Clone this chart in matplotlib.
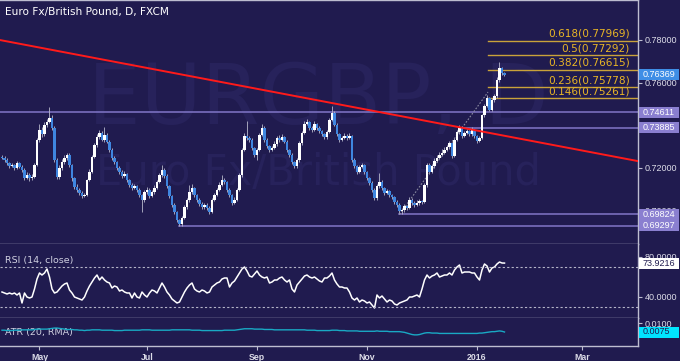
import matplotlib
matplotlib.use('Agg')
import matplotlib.pyplot as plt
from matplotlib.patches import Rectangle
from matplotlib.ticker import FormatStrFormatter, FuncFormatter
import numpy as np
import pandas as pd

# EUR/GBP daily candles (FXCM)
start_date = '2015-04-10'
first_open = 0.7252
closes = [0.7247, 0.7238, 0.7223, 0.7209, 0.7214, 0.7200, 0.7223, 0.7205, 0.7191, 0.7153,
          0.7167, 0.7153, 0.7158, 0.7214, 0.7331, 0.7378, 0.7359, 0.7402, 0.7416, 0.7434,
          0.7388, 0.7238, 0.7158, 0.7200, 0.7228, 0.7247, 0.7261, 0.7214, 0.7153, 0.7111,
          0.7097, 0.7083, 0.7069, 0.7073, 0.7144, 0.7181, 0.7252, 0.7308, 0.7345, 0.7364,
          0.7331, 0.7355, 0.7322, 0.7284, 0.7247, 0.7228, 0.7200, 0.7181, 0.7163, 0.7172,
          0.7144, 0.7120, 0.7106, 0.7116, 0.7097, 0.7073, 0.7050, 0.7088, 0.7097, 0.7069,
          0.7088, 0.7106, 0.7134, 0.7167, 0.7191, 0.7163, 0.7116, 0.7069, 0.7027, 0.6994,
          0.6956, 0.6938, 0.6966, 0.7017, 0.7050, 0.7088, 0.7106, 0.7073, 0.7050, 0.7031,
          0.7017, 0.7027, 0.7013, 0.6994, 0.7050, 0.7073, 0.7097, 0.7120, 0.7144, 0.7134,
          0.7097, 0.7073, 0.7036, 0.7050, 0.7097, 0.7167, 0.7284, 0.7350, 0.7341, 0.7331,
          0.7294, 0.7261, 0.7284, 0.7355, 0.7388, 0.7331, 0.7303, 0.7284, 0.7294, 0.7313,
          0.7341, 0.7331, 0.7345, 0.7322, 0.7284, 0.7261, 0.7228, 0.7209, 0.7238, 0.7317,
          0.7364, 0.7406, 0.7416, 0.7388, 0.7378, 0.7406, 0.7388, 0.7373, 0.7359, 0.7345,
          0.7369, 0.7425, 0.7458, 0.7402, 0.7359, 0.7331, 0.7341, 0.7350, 0.7341, 0.7350,
          0.7238, 0.7209, 0.7181, 0.7205, 0.7214, 0.7181, 0.7153, 0.7130, 0.7097, 0.7059,
          0.7116, 0.7134, 0.7106, 0.7083, 0.7092, 0.7073, 0.7064, 0.7041, 0.7027, 0.6998,
          0.7003, 0.7022, 0.7013, 0.7050, 0.7036, 0.7027, 0.7036, 0.7045, 0.7041, 0.7120,
          0.7214, 0.7181, 0.7209, 0.7233, 0.7247, 0.7261, 0.7270, 0.7284, 0.7298, 0.7317,
          0.7256, 0.7331, 0.7369, 0.7388, 0.7350, 0.7364, 0.7373, 0.7359, 0.7378, 0.7350,
          0.7327, 0.7341, 0.7448, 0.7491, 0.7528, 0.7472, 0.7519, 0.7538, 0.7613, 0.7669,
          0.7645, 0.7637]
highs = [0.7262, 0.7255, 0.7245, 0.7230, 0.7225, 0.7220, 0.7233, 0.7230, 0.7212, 0.7198,
         0.7180, 0.7175, 0.7170, 0.7222, 0.7340, 0.7405, 0.7392, 0.7415, 0.7430, 0.7486,
         0.7450, 0.7395, 0.7245, 0.7212, 0.7240, 0.7262, 0.7272, 0.7268, 0.7220, 0.7160,
         0.7125, 0.7105, 0.7090, 0.7085, 0.7150, 0.7195, 0.7260, 0.7318, 0.7358, 0.7380,
         0.7372, 0.7390, 0.7362, 0.7330, 0.7292, 0.7258, 0.7235, 0.7208, 0.7190, 0.7185,
         0.7178, 0.7150, 0.7128, 0.7125, 0.7122, 0.7105, 0.7080, 0.7098, 0.7110, 0.7105,
         0.7098, 0.7118, 0.7145, 0.7175, 0.7215, 0.7198, 0.7170, 0.7122, 0.7075, 0.7035,
         0.7000, 0.6962, 0.6975, 0.7025, 0.7060, 0.7118, 0.7125, 0.7112, 0.7080, 0.7058,
         0.7040, 0.7038, 0.7035, 0.7020, 0.7058, 0.7085, 0.7108, 0.7132, 0.7165, 0.7152,
         0.7140, 0.7105, 0.7080, 0.7062, 0.7105, 0.7175, 0.7292, 0.7362, 0.7420, 0.7352,
         0.7340, 0.7300, 0.7295, 0.7365, 0.7405, 0.7395, 0.7340, 0.7310, 0.7305, 0.7325,
         0.7350, 0.7355, 0.7360, 0.7352, 0.7330, 0.7290, 0.7268, 0.7235, 0.7248, 0.7325,
         0.7375, 0.7418, 0.7430, 0.7422, 0.7395, 0.7418, 0.7412, 0.7395, 0.7380, 0.7365,
         0.7378, 0.7435, 0.7490, 0.7465, 0.7410, 0.7365, 0.7352, 0.7362, 0.7358, 0.7365,
         0.7355, 0.7245, 0.7215, 0.7215, 0.7225, 0.7220, 0.7188, 0.7160, 0.7138, 0.7105,
         0.7125, 0.7177, 0.7142, 0.7112, 0.7102, 0.7098, 0.7080, 0.7070, 0.7048, 0.7035,
         0.7012, 0.7030, 0.7028, 0.7065, 0.7058, 0.7045, 0.7048, 0.7055, 0.7052, 0.7128,
         0.7222, 0.7225, 0.7220, 0.7245, 0.7260, 0.7275, 0.7290, 0.7300, 0.7310, 0.7328,
         0.7322, 0.7340, 0.7380, 0.7402, 0.7395, 0.7375, 0.7385, 0.7380, 0.7390, 0.7384,
         0.7356, 0.7352, 0.7455, 0.7500, 0.7540, 0.7535, 0.7530, 0.7548, 0.7625, 0.7697,
         0.7672, 0.7650]
lows = [0.7240, 0.7230, 0.7215, 0.7200, 0.7203, 0.7190, 0.7195, 0.7198, 0.7180, 0.7145,
        0.7148, 0.7140, 0.7145, 0.7152, 0.7208, 0.7320, 0.7345, 0.7350, 0.7390, 0.7410,
        0.7380, 0.7230, 0.7150, 0.7150, 0.7190, 0.7220, 0.7238, 0.7205, 0.7140, 0.7100,
        0.7088, 0.7075, 0.7058, 0.7062, 0.7068, 0.7138, 0.7175, 0.7245, 0.7300, 0.7335,
        0.7325, 0.7322, 0.7315, 0.7275, 0.7238, 0.7220, 0.7192, 0.7170, 0.7155, 0.7158,
        0.7135, 0.7110, 0.7098, 0.7100, 0.7088, 0.7062, 0.6995, 0.7042, 0.7078, 0.7060,
        0.7062, 0.7080, 0.7100, 0.7128, 0.7160, 0.7155, 0.7108, 0.7060, 0.7018, 0.6985,
        0.6945, 0.6930, 0.6930, 0.6960, 0.7010, 0.7042, 0.7080, 0.7065, 0.7042, 0.7022,
        0.7008, 0.7010, 0.7005, 0.6985, 0.6990, 0.7045, 0.7068, 0.7090, 0.7115, 0.7125,
        0.7088, 0.7065, 0.7028, 0.7030, 0.7045, 0.7090, 0.7160, 0.7278, 0.7332, 0.7322,
        0.7285, 0.7252, 0.7238, 0.7278, 0.7348, 0.7322, 0.7295, 0.7275, 0.7278, 0.7288,
        0.7305, 0.7322, 0.7325, 0.7315, 0.7275, 0.7252, 0.7220, 0.7200, 0.7202, 0.7230,
        0.7310, 0.7358, 0.7400, 0.7380, 0.7368, 0.7372, 0.7380, 0.7365, 0.7350, 0.7335,
        0.7338, 0.7362, 0.7418, 0.7395, 0.7350, 0.7322, 0.7325, 0.7335, 0.7332, 0.7335,
        0.7230, 0.7200, 0.7172, 0.7175, 0.7198, 0.7172, 0.7145, 0.7120, 0.7088, 0.7050,
        0.7052, 0.7108, 0.7098, 0.7075, 0.7076, 0.7065, 0.7055, 0.7032, 0.7018, 0.6982,
        0.6985, 0.6995, 0.7005, 0.7008, 0.7028, 0.7018, 0.7020, 0.7028, 0.7032, 0.7035,
        0.7112, 0.7172, 0.7175, 0.7202, 0.7228, 0.7240, 0.7255, 0.7265, 0.7278, 0.7290,
        0.7248, 0.7250, 0.7325, 0.7360, 0.7342, 0.7345, 0.7358, 0.7350, 0.7352, 0.7342,
        0.7318, 0.7320, 0.7335, 0.7440, 0.7485, 0.7465, 0.7468, 0.7510, 0.7530, 0.7605,
        0.7638, 0.7630]
rsi = [45, 44, 43, 44, 43, 44, 42, 44, 34, 44,
       40, 39, 40, 48, 58, 64, 62, 64, 68, 60,
       48, 44, 45, 48, 51, 53, 54, 47, 44, 40,
       39, 38, 37, 40, 46, 51, 55, 59, 62, 57,
       60, 57, 55, 54, 49, 51, 50, 46, 47, 45,
       44, 44, 39, 44, 40, 39, 45, 42, 40, 44,
       47, 46, 44, 49, 54, 50, 45, 42, 38, 36,
       34, 35, 40, 45, 49, 52, 54, 48, 46, 45,
       47, 46, 44, 45, 50, 52, 54, 55, 58, 59,
       59, 50, 54, 56, 60, 64, 68, 70, 66, 61,
       60, 63, 66, 62, 60, 59, 60, 54, 55, 57,
       57, 59, 60, 57, 55, 57, 48, 45, 52, 55,
       58, 61, 62, 60, 59, 60, 58, 56, 55, 59,
       59, 61, 64, 57, 53, 50, 50, 49, 49, 45,
       39, 37, 39, 35, 37, 36, 34, 35, 32, 29,
       42, 39, 41, 38, 35, 37, 36, 33, 32, 34,
       35, 36, 37, 40, 40, 41, 42, 40, 48, 57,
       62, 59, 61, 62, 64, 60, 61, 62, 62, 64,
       62, 67, 70, 72, 64, 65, 65, 65, 64, 64,
       60, 57, 67, 73, 71, 65, 69, 70, 73, 75,
       74, 73.9216]
atr = [0.0080, 0.0080, 0.0079, 0.0079, 0.0079, 0.0080, 0.0080, 0.0080, 0.0081, 0.0081,
       0.0081, 0.0081, 0.0081, 0.0082, 0.0083, 0.0083, 0.0083, 0.0083, 0.0083, 0.0084,
       0.0085, 0.0086, 0.0086, 0.0085, 0.0084, 0.0083, 0.0082, 0.0082, 0.0082, 0.0081,
       0.0081, 0.0080, 0.0080, 0.0079, 0.0080, 0.0080, 0.0081, 0.0081, 0.0081, 0.0081,
       0.0080, 0.0080, 0.0080, 0.0080, 0.0080, 0.0079, 0.0079, 0.0079, 0.0079, 0.0080,
       0.0080, 0.0080, 0.0080, 0.0080, 0.0080, 0.0080, 0.0081, 0.0081, 0.0081, 0.0081,
       0.0080, 0.0080, 0.0080, 0.0080, 0.0080, 0.0080, 0.0080, 0.0080, 0.0081, 0.0081,
       0.0081, 0.0081, 0.0081, 0.0081, 0.0081, 0.0081, 0.0080, 0.0080, 0.0080, 0.0080,
       0.0079, 0.0079, 0.0079, 0.0079, 0.0079, 0.0079, 0.0079, 0.0079, 0.0079, 0.0080,
       0.0080, 0.0080, 0.0080, 0.0080, 0.0081, 0.0082, 0.0083, 0.0084, 0.0084, 0.0084,
       0.0084, 0.0083, 0.0083, 0.0083, 0.0083, 0.0082, 0.0082, 0.0082, 0.0082, 0.0081,
       0.0081, 0.0081, 0.0081, 0.0081, 0.0081, 0.0081, 0.0081, 0.0081, 0.0081, 0.0081,
       0.0081, 0.0081, 0.0080, 0.0080, 0.0080, 0.0080, 0.0079, 0.0079, 0.0079, 0.0079,
       0.0079, 0.0079, 0.0080, 0.0080, 0.0080, 0.0079, 0.0079, 0.0079, 0.0078, 0.0078,
       0.0078, 0.0078, 0.0078, 0.0077, 0.0077, 0.0077, 0.0077, 0.0077, 0.0077, 0.0077,
       0.0078, 0.0077, 0.0077, 0.0077, 0.0077, 0.0076, 0.0076, 0.0076, 0.0076, 0.0076,
       0.0075, 0.0074, 0.0072, 0.0070, 0.0068, 0.0067, 0.0067, 0.0068, 0.0070, 0.0072,
       0.0073, 0.0073, 0.0072, 0.0072, 0.0072, 0.0071, 0.0071, 0.0071, 0.0071, 0.0071,
       0.0071, 0.0071, 0.0071, 0.0071, 0.0071, 0.0071, 0.0071, 0.0071, 0.0071, 0.0071,
       0.0071, 0.0072, 0.0072, 0.0073, 0.0074, 0.0075, 0.0076, 0.0076, 0.0077, 0.0078,
       0.0077, 0.0075]

# drawings on the chart
fib_ratios = [0.146, 0.236, 0.382, 0.5, 0.618]
fib_prices = [0.75261, 0.75778, 0.76615, 0.77292, 0.77969]
swing = [('2015-11-19', 0.69824), ('2016-01-07', 0.7556)]
level_prices = [0.74611, 0.73885, 0.69824, 0.69297]
level_starts = [None, '2015-12-23', '2015-11-19', '2015-07-20']
trend = [('2015-04-10', 0.7798), ('2016-01-18', 0.7351)]
last_price = 0.76369
price_ticks = [0.70, 0.72, 0.74, 0.76, 0.78]
month_ticks = [('2015-05', 'May'), ('2015-07', 'Jul'), ('2015-09', 'Sep'),
               ('2015-11', 'Nov'), ('2016-01', '2016'), ('2016-03', 'Mar')]

BG = '#201b4f'
GRID = '#bdbdd0'
TXT = '#dcdce8'
LEVEL = '#8176c8'
FIB = '#c9a23a'
WMARK = '#27225b'
W, H = 680, 361

plt.rcParams['font.family'] = 'DejaVu Sans'

fig = plt.figure(figsize=(W / 100, H / 100), dpi=100, facecolor=BG)
ax = fig.add_axes([0, 1 - 244 / H, 638 / W, 244 / H])
ax_rsi = fig.add_axes([0, 1 - 318 / H, 638 / W, 74 / H], sharex=ax)
ax_atr = fig.add_axes([0, 1 - 346 / H, 638 / W, 28 / H], sharex=ax)

dates = pd.bdate_range(start_date, periods=len(closes))
cal = pd.bdate_range(start_date, '2016-03-31')
xs = np.arange(len(closes))


def pos(d):
    return cal.get_loc(pd.Timestamp(d))


opens = [first_open] + closes[:-1]
x_left, x_right = -0.8, 254.4

for a in (ax, ax_rsi, ax_atr):
    a.set_facecolor(BG)
    a.spines['left'].set_visible(False)
    for s in ('top', 'right', 'bottom'):
        a.spines[s].set_color(GRID)
        a.spines[s].set_linewidth(1)
    a.yaxis.tick_right()
    a.tick_params(axis='y', colors=GRID, length=3, width=0.8, pad=2,
                  labelsize=6.5, labelcolor=TXT)
    a.set_xlim(x_left, x_right)
ax_rsi.spines['top'].set_visible(False)
ax_atr.spines['top'].set_visible(False)

# candles
up = [c >= o for o, c in zip(opens, closes)]
ax.vlines(xs, lows, highs, color='#b9b9cc', lw=0.6, zorder=2)
body_lo = [min(o, c) for o, c in zip(opens, closes)]
body_h = [max(abs(c - o), 0.00012) for o, c in zip(opens, closes)]
ax.bar(xs, body_h, bottom=body_lo, width=0.88,
       color=['#ffffff' if u else '#3f86e0' for u in up], linewidth=0, zorder=3)

ax.set_ylim(0.68437, 0.79875)
ax.set_yticks(price_ticks)
# the 0.74 label sits fully under the 0.73885 level box on the chart
ax.yaxis.set_major_formatter(FuncFormatter(
    lambda v, p: '' if abs(v - 0.74) < 1e-9 else '%.5f' % v))

# trend line
tx = [pos(trend[0][0]), pos(trend[1][0])]
slope = (trend[1][1] - trend[0][1]) / (tx[1] - tx[0])
ax.plot([x_left, x_right], [trend[0][1] + slope * (x_left - tx[0]),
                            trend[0][1] + slope * (x_right - tx[0])],
        color='#ff1a1a', lw=1.4, zorder=4)

# horizontal levels
for p, s in zip(level_prices, level_starts):
    x0 = x_left if s is None else pos(s)
    ax.plot([x0, x_right], [p, p], color=LEVEL, lw=1.1, zorder=1.5)

# fib swing + levels
sx = [pos(swing[0][0]), pos(swing[1][0]) + 0.4]
ax.plot(sx, [swing[0][1], swing[1][1]], color='#8a8aa0', lw=0.8,
        ls=(0, (1.5, 1.5)), zorder=2.5)
for r, p in zip(fib_ratios, fib_prices):
    ax.plot([sx[1], x_right], [p, p], color=FIB, lw=1.0, zorder=1.6)
    ax.annotate('%g(%.5f)' % (r, p), (x_right - 3.2, p), xytext=(0, 1.5),
                textcoords='offset points', ha='right', va='bottom',
                color='#e8b526', fontsize=7.6, zorder=5)

# watermark
ax.text(318 / W, 1 - 124 / H, 'EURGBP, D', transform=fig.transFigure,
        ha='center', va='baseline', fontsize=60, color=WMARK, zorder=0.5)
ax.text(318 / W, 1 - 185 / H, 'Euro Fx/British Pound', transform=fig.transFigure,
        ha='center', va='baseline', fontsize=30, color=WMARK, zorder=0.5)

# RSI
ax_rsi.plot(xs, rsi, color='white', lw=1.1)
for lv in (70, 30):
    ax_rsi.axhline(lv, color='#b4b4c8', lw=0.8, ls=(0, (2, 2)))
ax_rsi.set_ylim(19, 93)
ax_rsi.set_yticks([40, 80])
ax_rsi.yaxis.set_major_formatter(FormatStrFormatter('%.4f'))
ax_rsi.text(5 / W, 1 - 260 / H, 'RSI (14, close)', transform=fig.transFigure,
            color='#cfcfe0', fontsize=6.8, va='center', ha='left')

# ATR
ax_atr.plot(xs, atr, color='#19a9c4', lw=1.0, zorder=3)
ax_atr.set_ylim(0.00361, 0.01139)
ax_atr.set_yticks([0.01])
ax_atr.yaxis.set_major_formatter(FormatStrFormatter('%.4f'))
ax_atr.text(5 / W, 1 - 332 / H, 'ATR (20, RMA)', transform=fig.transFigure,
            color='#cfcfe0', fontsize=6.8, va='center', ha='left', zorder=1)

for a in (ax, ax_rsi, ax_atr):
    for lab in a.get_yticklabels():
        lab.set_family('Liberation Sans')

# x axis
tpos = [int(np.argmax(cal.strftime('%Y-%m') == m)) for m, _ in month_ticks]
ax_atr.set_xticks(tpos)
ax_atr.set_xticklabels([l for _, l in month_ticks])
ax_atr.tick_params(axis='x', colors=GRID, length=3, width=0.8, pad=2,
                   labelsize=6.3, labelcolor=TXT)
for lab in ax_atr.get_xticklabels():
    lab.set_family('Liberation Sans')
    lab.set_weight('bold')
ax.tick_params(axis='x', bottom=False, labelbottom=False)
ax_rsi.tick_params(axis='x', bottom=False, labelbottom=False)

# title
fig.text(5 / W, 1 - 11.5 / H, 'Euro Fx/British Pound, D, FXCM', color='white',
         fontsize=7.6, va='center', ha='left')


# value boxes on the price scale
def side_box(a, value, text, fc, tc):
    yf = a.transData.transform((0, value))[1] / fig.bbox.height
    fig.add_artist(Rectangle((639 / W, yf - 5.5 / H), 40 / W, 11 / H,
                             transform=fig.transFigure, facecolor=fc,
                             edgecolor='none', zorder=5))
    fig.text(643 / W, yf, text, color=tc, fontsize=6.5, family='Liberation Sans',
             va='center', ha='left', zorder=6)


for p in level_prices:
    side_box(ax, p, '%.5f' % p, '#8a7fd0', 'white')
side_box(ax, last_price, '%.5f' % last_price, '#3f8ee6', 'white')
side_box(ax_rsi, rsi[-1], '%.4f' % rsi[-1], 'white', BG)
side_box(ax_atr, atr[-1], '%.4f' % atr[-1], '#00e5ff', BG)

fig.savefig('out.png', dpi=100, facecolor=BG)
